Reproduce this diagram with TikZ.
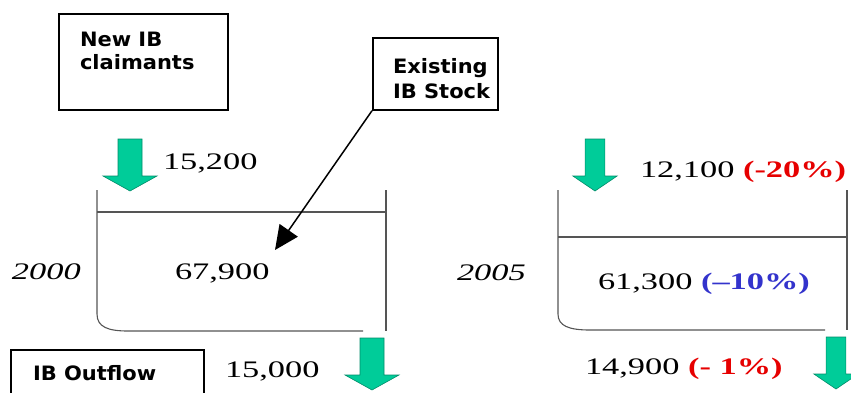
\documentclass[tikz,border=0pt]{standalone}
\usepackage{fontspec}
\usetikzlibrary{arrows.meta}

% Fonts: wide serif for the figures, bold sans for the box labels
\newfontfamily\numfont[FakeStretch=1.45]{Liberation Serif}
\newfontfamily\labelfont[FakeStretch=1.06]{DejaVu Sans}

\definecolor{flowgreen}{RGB}{0,204,153}
\definecolor{flowedge}{RGB}{0,140,105}
\definecolor{tankgray}{RGB}{85,85,85}
\definecolor{downred}{RGB}{230,0,0}
\definecolor{downblue}{RGB}{51,51,204}

\tikzset{
  x=1pt, y=-1pt,
  txt/.style={anchor=base west, inner sep=0pt, outer sep=0pt},
  num/.style={txt, font=\numfont\fontsize{23.7}{28}\selectfont},
  year/.style={num, font=\numfont\itshape\fontsize{23.7}{28}\selectfont},
  boxlabel/.style={txt, font=\labelfont\bfseries\fontsize{19.8}{24}\selectfont},
  labelbox/.style={draw, line width=1.7pt, anchor=north west, inner sep=0pt,
                   minimum width=#1},
  tank/.style={draw=tankgray, line width=1.1pt},
  pointer/.style={draw, line width=1.5pt,
                  -{Triangle[length=24pt, width=22pt]}},
  greenarrow/.pic={
    \filldraw[fill=flowgreen, draw=flowedge, line width=0.6pt]
      (-12,-52) -- (12,-52) -- (12,-15) -- (27,-15) -- (0,0)
      -- (-27,-15) -- (-12,-15) -- cycle;
  },
}

\begin{document}
\begin{tikzpicture}
\useasboundingbox (0,0) rectangle (851,392);

% ---- labelled boxes ----
\node[labelbox=169pt, minimum height=96pt] (newbox) at (58,13) {};
\node[boxlabel] (newl1) at (80,46) {New IB};
\node[boxlabel] (newl2) at (80,69) {claimants};

\node[labelbox=125pt, minimum height=72pt] (existbox) at (372,37) {};
\node[boxlabel] (exl1) at (393,73) {Existing};
\node[boxlabel] (exl2) at (393,98) {IB Stock};

\node[labelbox=193pt, minimum height=50pt] (outbox) at (10,349) {};
\node[boxlabel] (outl) at (33,380) {IB Outflow};

% ---- 2000 stock ----
\draw[tank] (97,190) -- (97,314) .. controls (97,327) and (108,331) .. (128,331) -- (363,331);
\draw[tank] (386,190) -- (386,331);
\draw[tank] (97,212) -- (386,212);

\node[year] (y2000) at (12,279) {2000};
\node[num] (stock2000) at (175,279) {67,900};
\node[num] (in2000) at (163,169) {15,200};
\node[num] (out2000) at (225,377) {15,000};

\pic at (130,191) {greenarrow};
\pic at (372,390) {greenarrow};

% ---- 2005 stock ----
\draw[tank] (558,190) -- (558,314) .. controls (558,326) and (569,330) .. (590,330) -- (825,330);
\draw[tank] (847,190) -- (847,330);
\draw[tank] (558,237) -- (847,237);

\node[year] (y2005) at (457,280) {2005};
\node[num] (stock2005) at (598,289) {61,300 {\bfseries\color{downblue}(–10\%)}};
\node[num] (in2005) at (640,177) {12,100 {\bfseries\color{downred}(-20\%)}};
\node[num] (out2005) at (585,374) {14,900 {\bfseries\color{downred}(- 1\%)}};

\pic[xscale=0.82] at (595,191) {greenarrow};
\pic[xscale=0.82] at (836,389) {greenarrow};

% ---- pointer from the stock label into the tank ----
\coordinate (stockpt) at (275,250);
\draw[pointer] (existbox.south west) -- (stockpt);
\end{tikzpicture}
\end{document}
